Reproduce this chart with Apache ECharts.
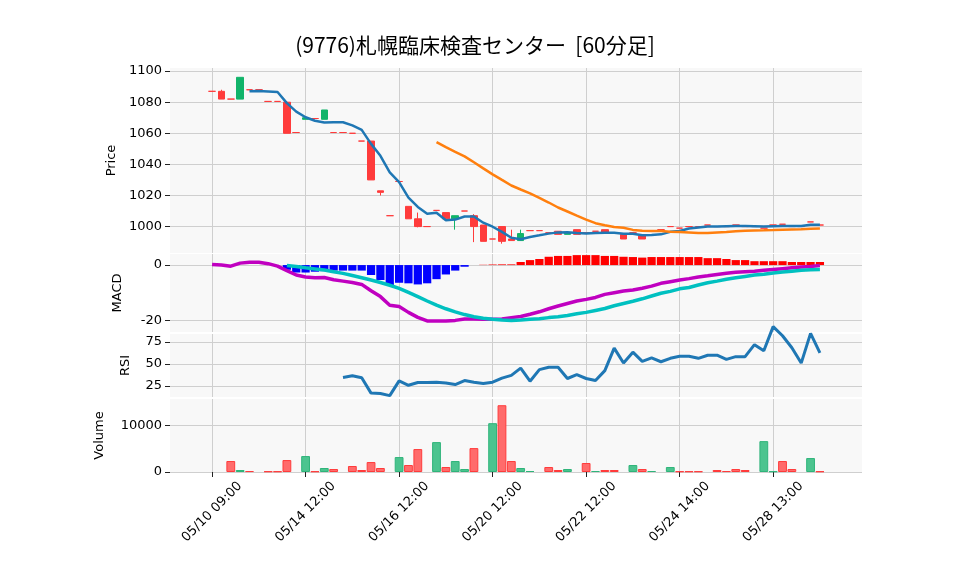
<!DOCTYPE html>
<html>
<head>
<meta charset="utf-8">
<script src="https://cdn.jsdelivr.net/npm/echarts@6/dist/echarts.min.js"></script>
<style>html,body{margin:0;background:#fff}#main{width:958px;height:575px}</style>
</head>
<body>
<div id="main"></div>
<script>
// 60分足 OHLC: [open, close, low, high]
var ohlc = [
  [1087,1087,1087,1087],[1087,1082,1082,1088],[1082,1082,1082,1082],[1082,1096,1082,1096],
  [1088,1088,1088,1088],[1088,1088,1088,1088],[1080.5,1080.5,1080.5,1080.5],[1080.5,1080.5,1080.5,1080.5],
  [1080,1060,1060,1080],[1060.5,1060.5,1060.5,1060.5],[1069,1070,1069,1070],[1069.5,1069.5,1069.5,1069.5],
  [1069,1075,1069,1075],[1060.5,1060.5,1060.5,1060.5],[1060.5,1060.5,1060.5,1060.5],[1060,1060,1060,1060],
  [1055,1055,1055,1055],[1055,1030,1030,1055],[1023,1022,1020,1023],[1007,1007,1007,1007],
  [1029,1029,1029,1029],[1013,1005,1005,1013],[1005,1000,999.5,1009],[1000,1000,1000,1000],
  [1010.4,1010.4,1010.4,1010.4],[1009,1005,1005,1009],[1005,1007,998,1007],[1010,1010,1010,1010],
  [1007,1000,990,1008],[1001,990.5,990.5,1001],[992,992,992,992],[1000,990.5,989,1000],
  [992,991,991,998],[991,995.5,991,998],[997.4,997.4,997.4,997.4],[997.4,997.4,997.4,997.4],
  [996,996,996,996],[997,995,995,997],[995,996,995,996],[998,995,995,998],
  [996,996,996,996],[997,997,997,997],[998,996,996,998],[996,996,996,996],
  [995,992,992,995],[996,996,996,996],[994,992,992,994],[997,997,997,997],
  [998,998,998,998],[1000,1000,1000,1000],[999,999,999,999],[1000,1000,1000,1000],
  [1000,1000,1000,1000],[1001,1001,1001,1001],[1000,1000,1000,1000],[1000,1000,1000,1000],
  [1001,1001,1001,1001],[1000,1000,1000,1000],[1000,1000,1000,1000],[999,999,999,999],
  [1001,1001,1001,1001],[1001.5,1001.5,1001.5,1001.5],[1000,1000,1000,1000],[1000,1000,1000,1000],
  [1003,1003,1003,1003],[1001,1001,1001,1001]
];
var volume = [0,0,2360,430,200,0,140,140,2570,0,3430,140,860,640,0,1290,430,2140,860,0,
  3210,1500,4930,0,6430,1070,2360,640,5140,0,10500,14360,2360,860,210,0,1070,430,640,0,
  1930,210,430,430,0,1500,640,210,0,1070,140,140,140,0,430,200,640,430,0,6640,
  140,2360,640,0,3000,140];
var volUp = [0,0,0,1,0,0,0,0,0,0,1,0,1,0,0,0,0,0,0,0,
  1,0,0,0,1,0,1,1,0,0,1,0,0,1,1,0,0,0,1,0,
  0,1,0,0,0,1,0,1,0,1,0,0,0,0,0,0,0,0,0,1,
  1,0,0,0,1,0];
var macd = [0.2,0,-0.4,0.7,1,1,0.5,-0.4,-2,-3.6,-4.3,-4.6,-4.5,-5.3,-5.8,-6.3,-7,-9.3,-11.4,-14.5,
  -15,-17.1,-18.9,-20.2,-20.2,-20.2,-20,-19.5,-19.5,-19.6,-19.6,-19.5,-19,-18.6,
  -17.8,-16.9,-15.8,-14.8,-13.9,-13.0,-12.4,-11.7,-10.6,-10.0,-9.4,-9.0,-8.4,-7.6,-6.6,-6.0,
  -5.4,-4.9,-4.3,-3.9,-3.4,-3.0,-2.6,-2.4,-2.2,-1.9,-1.6,-1.3,-1.0,-0.7,-0.5,-0.2];
var signal = [null,null,null,null,null,null,null,null,
  -0.2,-0.5,-1,-1.4,-1.8,-2.4,-3,-3.8,-4.6,-5.4,-6.3,-7.3,-8.4,-9.9,-11.4,-13,-14.5,-15.8,-16.9,-17.9,-18.7,-19.2,-19.6,
  -19.9,-20,-19.9,-19.6,-19.4,-19.0,-18.7,-18.2,-17.6,-17.1,-16.4,-15.7,-14.7,-13.9,-13.1,-12.2,-11.2,-10.2,
  -9.5,-8.6,-8.1,-7.2,-6.4,-5.8,-5.1,-4.6,-4.1,-3.6,-3.3,-2.9,-2.5,-2.2,-1.9,-1.7,-1.6];
var hist = [null,null,null,null,null,null,null,null,
  -1.7,-2.7,-2.7,-2.4,-2.2,-2.0,-2.0,-2.0,-2.0,-3.6,-5.4,-7.2,-6.4,-6.6,-7.0,-6.6,-5.1,-3.4,-2.0,-0.6,
  0,0.1,0.2,0.25,0.25,
  1.1,1.8,2.2,3.0,3.3,3.3,3.6,3.6,3.6,3.3,3.3,3.0,2.9,2.7,2.9,2.9,2.9,2.9,2.9,2.9,2.5,2.5,2.2,1.8,1.8,1.4,1.4,1.4,1.4,1.1,1.1,1.1,1.1];
var rsi = [null,null,null,null,null,null,null,null,null,null,null,null,null,null,
  34.7,36.6,34.3,16.9,16.5,14.1,30.8,25.8,28.9,28.9,29.3,28.5,26.6,31.2,29.3,27.7,29.3,33.9,37.0,45.2,
  30.4,43.6,46.3,46.3,33.5,37.8,33.5,31.2,42.4,68.0,51.0,63.4,52.9,56.8,52.5,56.4,58.7,58.7,56.4,59.9,
  59.9,55.2,58.3,58.3,71.9,64.9,92.4,82.0,68.4,51.0,84.7,62.6];
var tickIdx = [0,10,20,30,40,50,60];
var tickText = ['05/10 09:00','05/14 12:00','05/16 12:00','05/20 12:00','05/22 12:00','05/24 14:00','05/28 13:00'];

var PAD = 4;
var N = ohlc.length + PAD * 2;
var cats = [];
for (var i = 0; i < N; i++) cats.push('c' + i);
function pad(arr) {
  var out = [];
  for (var i = 0; i < PAD; i++) out.push(null);
  out = out.concat(arr);
  for (var j = 0; j < PAD; j++) out.push(null);
  return out;
}
function ma(n) {
  var out = [];
  for (var i = 0; i < ohlc.length; i++) {
    if (i < n - 1) { out.push(null); continue; }
    var s = 0;
    for (var j = i - n + 1; j <= i; j++) s += ohlc[j][1];
    out.push(+(s / n).toFixed(2));
  }
  return out;
}
function isTick(idx) { return tickIdx.indexOf(idx - PAD) >= 0; }

var red = '#ff3b3b', green = '#12b46a';
var font = 'DejaVu Sans';
var myChart = echarts.init(document.getElementById('main'));

var grids = [
  {left: 170, right: 96, top: 68, height: 185},
  {left: 170, right: 96, top: 254, height: 78},
  {left: 170, right: 96, top: 334, height: 63},
  {left: 170, right: 96, top: 399, height: 73}
];
grids.forEach(function (g) { g.show = true; g.backgroundColor = '#f8f8f8'; g.borderWidth = 0; });

var xAxes = [0,1,2,3].map(function (gi) {
  return {
    type: 'category', gridIndex: gi, data: cats, boundaryGap: true,
    axisLine: {show: false},
    axisTick: {show: gi === 3, alignWithLabel: true, interval: function (i) { return isTick(i); }, length: 5, lineStyle: {color: '#222'}},
    splitLine: {show: true, alignWithLabel: true, interval: function (i) { return isTick(i); }, lineStyle: {color: '#cfcfcf', width: 1}},
    axisLabel: gi === 3 ? {
      show: true, interval: function (i) { return isTick(i); }, rotate: 45, align: 'center', verticalAlign: 'middle',
      color: '#000', fontSize: 13, fontFamily: font, margin: 40,
      formatter: function (v, i) { var k = tickIdx.indexOf(i - PAD); return k >= 0 ? tickText[k] : ''; }
    } : {show: false}
  };
});

function yAx(gi, min, max, vals, name, gap) {
  return {
    type: 'value', gridIndex: gi, min: min, max: max, name: name, nameLocation: 'middle', nameGap: gap,
    nameTextStyle: {color: '#000', fontSize: 13, fontFamily: font},
    axisLine: {show: false},
    axisTick: {show: true, customValues: vals, length: 5, lineStyle: {color: '#222'}},
    axisLabel: {customValues: vals, color: '#000', fontSize: 13, fontFamily: font, margin: 8,
      formatter: function (v) { return String(v); }},
    splitLine: {show: true, lineStyle: {color: '#cfcfcf'}}
  };
}
var yAxes = [
  yAx(0, 983, 1102, [1000,1020,1040,1060,1080,1100], 'Price', 52),
  yAx(1, -24.2, 4, [-20,0], 'MACD', 46),
  yAx(2, 12.5, 84, [25,50,75], 'RSI', 38),
  yAx(3, 0, 15700, [0,10000], 'Volume', 64)
];

option = {
  animation: false,
  title: {text: '(9776)札幌臨床検査センター  [60分足]', left: 470, top: 30, textAlign: 'center',
    textStyle: {fontFamily: 'Noto Sans CJK JP', fontSize: 21, fontWeight: 'normal', color: '#000'}},
  grid: grids, xAxis: xAxes, yAxis: yAxes,
  series: [
    {type: 'candlestick', xAxisIndex: 0, yAxisIndex: 0, barWidth: 7,
      data: pad(ohlc).map(function (d) { return d || '-'; }),
      itemStyle: {color: green, color0: red, borderColor: green, borderColor0: red, borderColorDoji: red, borderWidth: 1}},
    {type: 'line', xAxisIndex: 0, yAxisIndex: 0, data: pad(ma(5)), showSymbol: false, lineStyle: {color: '#1f77b4', width: 2.5}},
    {type: 'line', xAxisIndex: 0, yAxisIndex: 0, data: pad(ma(25)), showSymbol: false, lineStyle: {color: '#ff7f0e', width: 2.5}},
    {type: 'bar', xAxisIndex: 1, yAxisIndex: 1, data: pad(hist), barCategoryGap: '12%',
      itemStyle: {color: function (p) { return p.value >= 0 ? '#ff0000' : '#0000ff'; }}},
    {type: 'line', xAxisIndex: 1, yAxisIndex: 1, data: pad(macd), showSymbol: false, lineStyle: {color: '#c000c0', width: 3.5}},
    {type: 'line', xAxisIndex: 1, yAxisIndex: 1, data: pad(signal), showSymbol: false, lineStyle: {color: '#00c0c0', width: 3.5}},
    {type: 'line', xAxisIndex: 2, yAxisIndex: 2, data: pad(rsi), showSymbol: false, clip: false, z: 5, lineStyle: {color: '#1f77b4', width: 3}},
    {type: 'bar', xAxisIndex: 3, yAxisIndex: 3, barCategoryGap: '6%',
      data: pad(volume.map(function (v, i) {
        if (!v) return '-';
        return {value: v, itemStyle: volUp[i] ? {color: '#4cc48f', borderColor: '#2fb47a'} : {color: '#ff6b6b', borderColor: '#ff3b3b'}};
      })),
      itemStyle: {borderWidth: 1}}
  ]
};
myChart.setOption(option);
window.addEventListener('resize', function () { myChart.resize(); });
</script>
</body>
</html>
